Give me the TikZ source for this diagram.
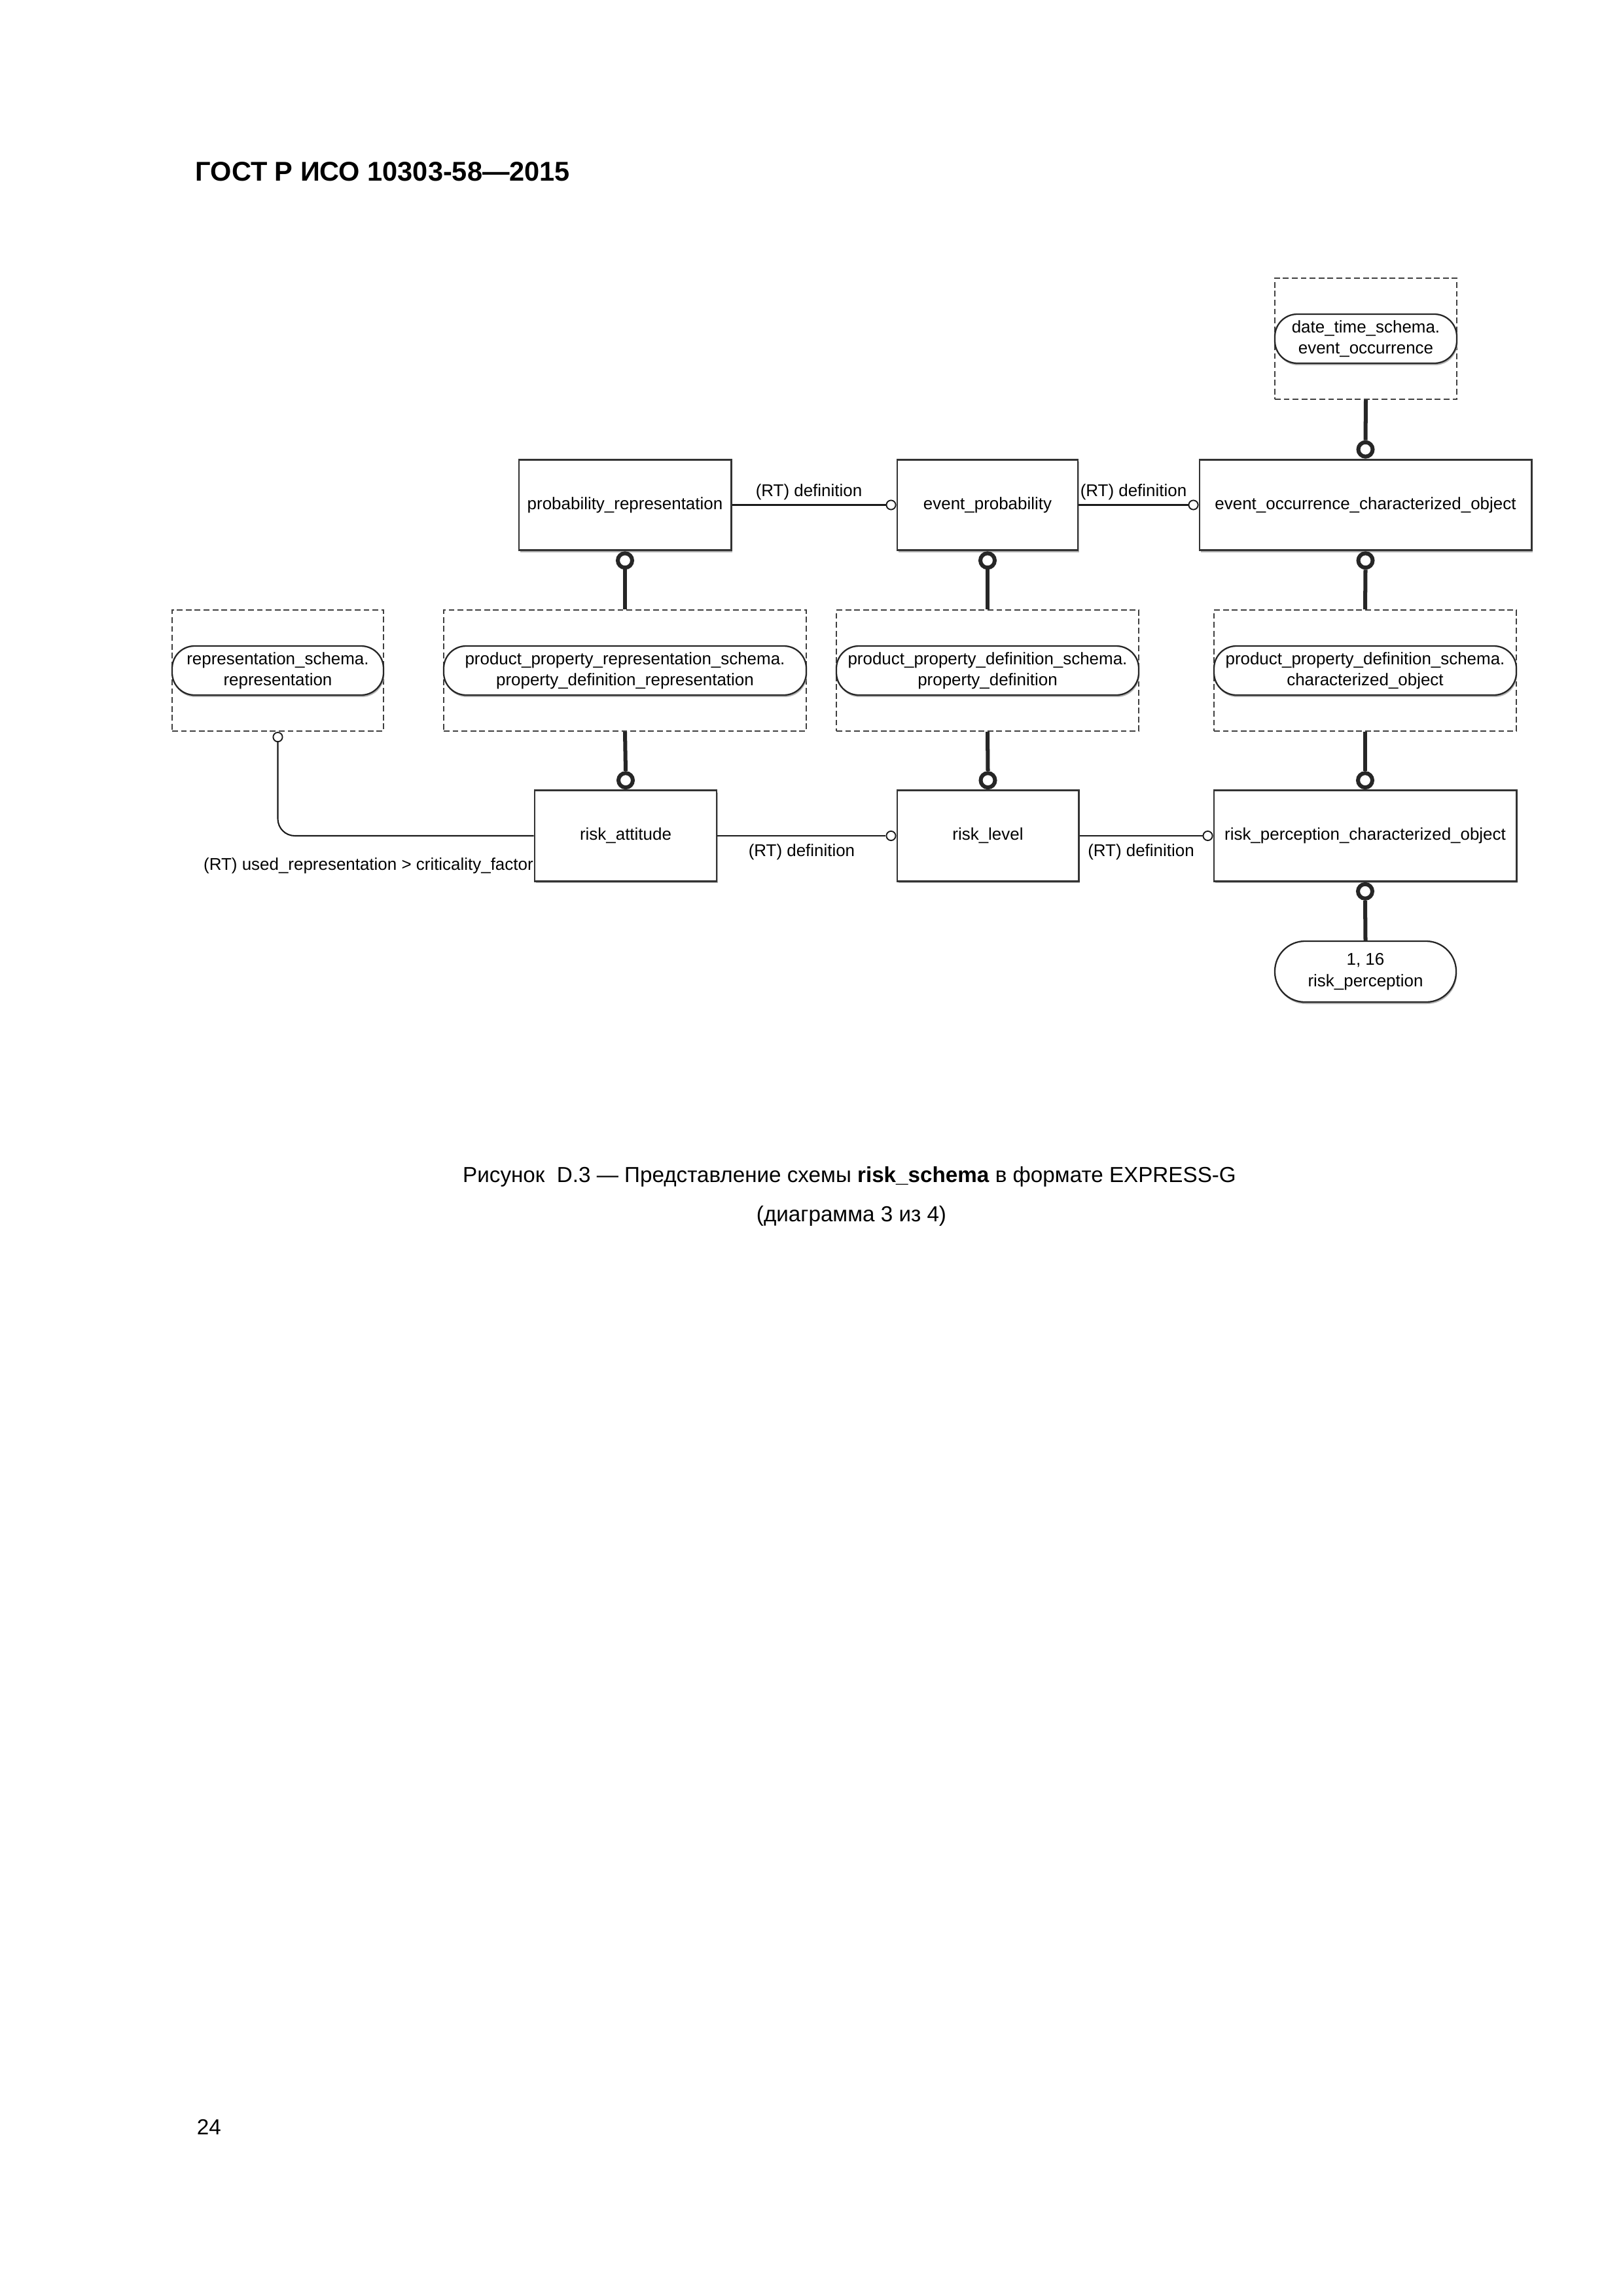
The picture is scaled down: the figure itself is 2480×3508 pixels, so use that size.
\documentclass[tikz,border=0pt]{standalone}
\usepackage{fontspec}
\setmainfont{Liberation Sans}
\usetikzlibrary{shadows}

\newcommand{\lbl}{\fontsize{6.25}{7.8}\selectfont}

\tikzset{
  entity/.style={draw=black!80, line width=0.7pt, fill=white, inner sep=0pt,
    minimum height=11.75mm, font=\lbl,
    drop shadow={shadow xshift=0.15mm, shadow yshift=-0.25mm, fill=black!30, opacity=1}},
  schemabox/.style={draw=black!75, line width=0.5pt, dash pattern=on 0.75mm off 0.4mm,
    minimum height=15.67mm, inner sep=0pt},
  refpill/.style={draw=black!85, line width=0.55pt, fill=white, rounded corners=2.9mm,
    minimum height=6.35mm, inner sep=0pt, align=center, font=\lbl,
    drop shadow={shadow xshift=0.1mm, shadow yshift=-0.25mm, fill=black!30, opacity=1}},
  thickrel/.style={line width=1.45pt, draw=black!85},
  thinrel/.style={line width=0.5pt, draw=black!90},
  ring/.style={circle, draw=black!85, line width=1.45pt, fill=white, minimum size=1.86mm, inner sep=0pt},
  oring/.style={circle, draw=black!90, line width=0.45pt, fill=white, minimum size=1.2mm, inner sep=0pt},
  rtlabel/.style={font=\lbl, inner sep=0.6mm},
}

\begin{document}
\begin{tikzpicture}[x=0.084677mm, y=-0.084677mm]
\useasboundingbox (0,0) rectangle (2480,3508);

% head and page number
\node[anchor=west, inner sep=0pt, font=\fontsize{10}{12}\selectfont\bfseries] (head) at (298,262) {ГОСТ Р ИСО 10303-58—2015};
\node[anchor=west, inner sep=0pt, font=\fontsize{8}{10}\selectfont] (pageno) at (300,3250) {24};

% entities
\node[entity, minimum width=27.44mm] (probrep) at (955,771.5) {probability\_representation};
\node[entity, minimum width=23.37mm] (eprob) at (1509,771.5) {event\_probability};
\node[entity, minimum width=42.93mm] (eoco) at (2086.5,771.5) {event\_occurrence\_characterized\_object};
\node[entity, minimum width=23.54mm] (ratt) at (956,1277) {risk\_attitude};
\node[entity, minimum width=23.46mm] (rlev) at (1509.5,1277) {risk\_level};
\node[entity, minimum width=39.12mm] (rpco) at (2086,1277) {risk\_perception\_characterized\_object};

% referenced schemas
\node[schemabox, minimum width=23.54mm] (dts) at (2087,517.5) {};
\node[refpill, minimum width=23.54mm] at (dts) {date\_time\_schema.\\event\_occurrence};
\node[schemabox, minimum width=27.35mm] (rep) at (424.5,1024.5) {};
\node[refpill, minimum width=27.35mm] at (rep) {representation\_schema.\\representation};
\node[schemabox, minimum width=46.91mm] (ppr) at (955,1024.5) {};
\node[refpill, minimum width=46.91mm] at (ppr) {product\_property\_representation\_schema.\\property\_definition\_representation};
\node[schemabox, minimum width=39.12mm] (pd) at (1509,1024.5) {};
\node[refpill, minimum width=39.12mm] at (pd) {product\_property\_definition\_schema.\\property\_definition};
\node[schemabox, minimum width=39.12mm] (co) at (2086,1024.5) {};
\node[refpill, minimum width=39.12mm] at (co) {product\_property\_definition\_schema.\\characterized\_object};

% select
\node[refpill, minimum width=23.46mm, minimum height=7.88mm, rounded corners=3.9mm] (rp) at (2086.5,1484.5) {1, 16\\risk\_perception};

% thick relations
\node[ring, anchor=north] (r1) at (probrep.south) {};
\draw[thickrel] (r1.south) -- (ppr.north);
\node[ring, anchor=south] (r2) at (ratt.north) {};
\draw[thickrel] (ppr.south) -- (r2.north);
\node[ring, anchor=north] (r3) at (eprob.south) {};
\draw[thickrel] (r3.south) -- (pd.north);
\node[ring, anchor=south] (r4) at (rlev.north) {};
\draw[thickrel] (pd.south) -- (r4.north);
\node[ring, anchor=south] (r5) at (eoco.north) {};
\draw[thickrel] (dts.south) -- (r5.north);
\node[ring, anchor=north] (r6) at (eoco.south) {};
\draw[thickrel] (r6.south) -- (co.north);
\node[ring, anchor=south] (r7) at (rpco.north) {};
\draw[thickrel] (co.south) -- (r7.north);
\node[ring, anchor=north] (r8) at (rpco.south) {};
\draw[thickrel] (r8.south) -- (rp.north);

% thin relations
\node[oring, anchor=east] (o1) at (eprob.west) {};
\draw[thinrel] (probrep.east) -- node[rtlabel, above] {(RT) definition} (o1.west);
\node[oring, anchor=east] (o2) at (eoco.west) {};
\draw[thinrel] (eprob.east) -- node[rtlabel, above] {(RT) definition} (o2.west);
\node[oring, anchor=east] (o3) at (rlev.west) {};
\draw[thinrel] (ratt.east) -- node[rtlabel, below=0.4mm] {(RT) definition} (o3.west);
\node[oring, anchor=east] (o4) at (rpco.west) {};
\draw[thinrel] (rlev.east) -- node[rtlabel, below=0.4mm] {(RT) definition} (o4.west);
\node[oring, anchor=north] (o5) at (rep.south) {};
\draw[thinrel, rounded corners=2.2mm] (o5.south) |- (ratt.west);
\node[rtlabel, anchor=east, inner sep=0pt] (usedrep) at ([yshift=-3.9mm]ratt.west) {(RT) used\_representation > criticality\_factor};

% caption
\node[font=\fontsize{8}{10}\selectfont] (cap) at (1298,1798) {Рисунок\ \ D.3 — Представление схемы \textbf{risk\_schema} в формате EXPRESS-G};
\node[font=\fontsize{8}{10}\selectfont] (capsub) at (1301,1858) {(диаграмма 3 из 4)};
\end{tikzpicture}
\end{document}
